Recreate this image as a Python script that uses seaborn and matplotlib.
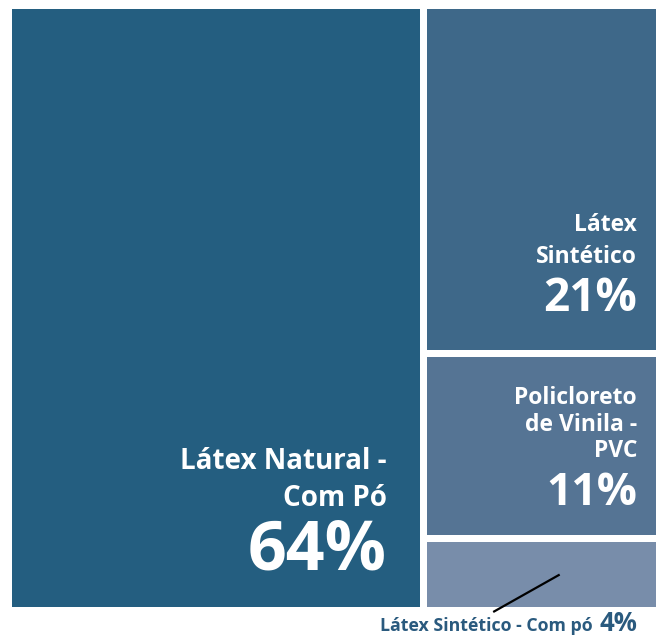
import matplotlib
matplotlib.use("Agg")
import matplotlib.pyplot as plt
import seaborn as sns

# ---- data ----
categories = ["Látex Natural -\nCom Pó", "Látex\nSintético",
              "Policloreto\nde Vinila -\nPVC", "Látex Sintético - Com pó"]
shares = [64, 21, 11, 4]
pct_labels = ["64%", "21%", "11%", "4%"]
colors = ["#245E80", "#3E6889", "#557494", "#788DAA"]

sns.set_theme(style="white")
plt.rcParams["font.family"] = ["Open Sans", "DejaVu Sans"]

W, H = 659, 638
fig = plt.figure(figsize=(W / 100, H / 100), dpi=100)
ax = fig.add_axes([0, 0, 1, 1])
ax.set_xlim(0, W)
ax.set_ylim(H, 0)
ax.axis("off")

# treemap region (pixels)
x0, x1, y0, y1 = 12, 656, 9, 607
gap = 7
total = sum(shares)
big_w = (x1 - x0 - gap) * shares[0] / total
rects = [(x0, y0, big_w, y1 - y0)]
rx = x0 + big_w + gap
rw = x1 - rx
rest = sum(shares[1:])
avail = (y1 - y0) - gap * (len(shares) - 2)
cy = y0
for s in shares[1:]:
    h = avail * s / rest
    rects.append((rx, cy, rw, h))
    cy += h + gap

for (x, y, w, h), c in zip(rects, colors):
    ax.bar(x, h, width=w, bottom=y, align="edge", color=c, linewidth=0)

# label styles: (label size, pct size, right pad, pct pad from bottom, line step, label-to-pct step)
styles = [
    (20, 49, 33, 37, 37, 64),
    (16.5, 33, 19, 39, 32, 48),
    (16.5, 32, 19, 30, 26.5, 48),
]
for i, (lab_fs, pct_fs, padx, pady, step, pstep) in enumerate(styles):
    x, y, w, h = rects[i]
    xr = x + w - padx
    base = y + h - pady
    ax.text(xr, base, pct_labels[i], ha="right", va="baseline",
            color="white", fontsize=pct_fs, fontweight="bold")
    lines = categories[i].split("\n")
    b = base - pstep
    for ln in reversed(lines):
        ax.text(xr, b, ln, ha="right", va="baseline", color="white",
                fontsize=lab_fs, fontweight="bold")
        b -= step

# small category label below the chart with leader line
x, y, w, h = rects[3]
txt_color = "#2A5A7E"
ax.text(637, 631, pct_labels[3], ha="right", va="baseline", color=txt_color,
        fontsize=18.5, fontweight="bold")
ax.text(593, 631, categories[3], ha="right", va="baseline", color=txt_color,
        fontsize=12.8, fontweight="bold")
ax.plot([x + 0.29 * w, x + 0.58 * w], [y + h + 5, y + 0.5 * h],
        color="black", linewidth=1.6, solid_capstyle="butt")

fig.savefig("out.png", dpi=100, facecolor="white")
